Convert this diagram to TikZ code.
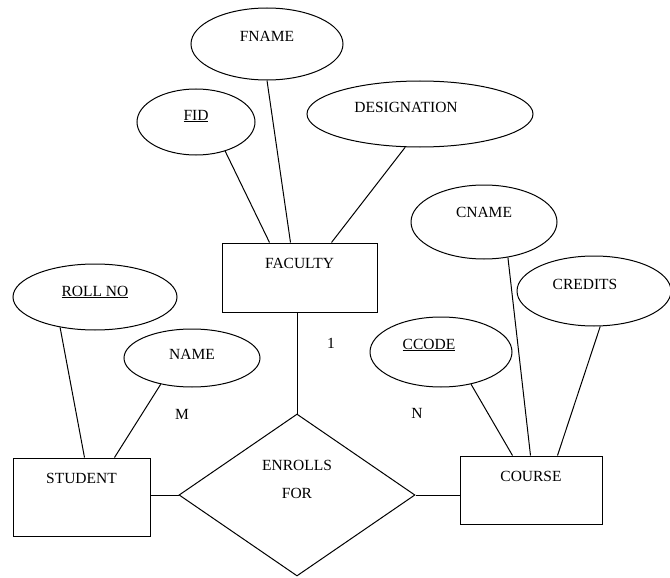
\documentclass[tikz,border=0pt]{standalone}
\usepackage{fontspec}
\setmainfont{Liberation Serif}
\usetikzlibrary{positioning,shapes.geometric}

\begin{document}
\begin{tikzpicture}[x=1pt,y=-1pt,line width=1pt,font=\fontsize{15.5}{18}\selectfont]
    \tikzstyle{attr} = [ellipse, draw=black, inner sep=0pt]
    \tikzstyle{entity} = [rectangle, draw=black, inner sep=0pt]
    \tikzstyle{rel} = [diamond, draw=black, inner sep=0pt]
    \useasboundingbox (0,0) rectangle (670,578);
    % entities and relationship
    \node (faculty) [entity, minimum width=155pt, minimum height=69pt, label={[yshift=14.5pt]center:FACULTY}] at (299.5,277.5) {};
    \node (student) [entity, minimum width=137pt, minimum height=78pt, label={[yshift=19pt]center:STUDENT}] at (81.5,497) {};
    \node (course)  [entity, minimum width=142pt, minimum height=68pt, label={[yshift=14pt]center:COURSE}] at (531,490) {};
    \node (enrolls) [rel, minimum width=236pt, minimum height=162pt, label={[yshift=16pt, align=center]center:{ENROLLS\\[10pt]FOR}}] at (297,495) {};
    % attributes
    \node (fname)   [attr, minimum width=152pt, minimum height=72pt, label={[yshift=8pt]center:FNAME}] at (267,44) {};
    \node (fid)     [attr, minimum width=118pt, minimum height=66pt, label={[yshift=6pt]center:\underline{FID}}] at (196,122) {};
    \node (desig)   [attr, minimum width=226pt, minimum height=66pt, label={[xshift=-14pt, yshift=7pt]center:DESIGNATION}] at (420,114) {};
    \node (cname)   [attr, minimum width=146pt, minimum height=74pt, label={[yshift=10pt]center:CNAME}] at (484,222) {};
    \node (credits) [attr, minimum width=154pt, minimum height=70pt, label={[xshift=-9pt, yshift=7pt]center:CREDITS}] at (594,291) {};
    \node (rollno)  [attr, minimum width=164pt, minimum height=66pt, label={[yshift=5pt]center:\underline{ROLL NO}}] at (95,297) {};
    \node (name)    [attr, minimum width=136pt, minimum height=58pt, label={[yshift=4pt]center:NAME}] at (192,358) {};
    \node (ccode)   [attr, minimum width=142pt, minimum height=70pt, label={[xshift=-12pt, yshift=7pt]center:\underline{CCODE}}] at (441,352) {};
    % cardinalities
    \node (one)  at (331,343) {1};
    \node (many) at (182,414) {M};
    \node (n)    at (417,413) {N};
    % connectors
    \draw (fid.-45) -- ([xshift=48pt]faculty.north west);
    \draw (fname.south) -- ([xshift=69pt]faculty.north west);
    \draw (desig.-114) -- ([xshift=110pt]faculty.north west);
    \draw (rollno.-139) -- ([xshift=72pt]student.north west);
    \draw (name.-140) -- ([xshift=102pt]student.north west);
    \draw (ccode.-47) -- ([xshift=53pt]course.north west);
    \draw (cname.-56) -- ([xshift=71pt]course.north west);
    \draw (credits.-80) -- ([xshift=98pt]course.north west);
    \draw (enrolls.north) -- (enrolls.north |- faculty.south);
    \draw (enrolls.west) -- (enrolls.west -| student.east);
    \draw (enrolls.east) -- (enrolls.east -| course.west);
\end{tikzpicture}
\end{document}
